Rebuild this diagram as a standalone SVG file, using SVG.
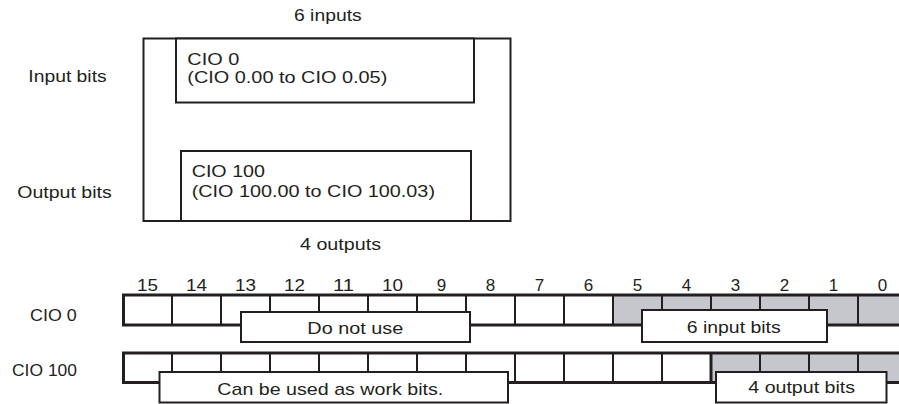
<svg xmlns="http://www.w3.org/2000/svg" width="899" height="404" viewBox="0 0 899 404">
<style>
text{font-family:"Liberation Sans",Arial,sans-serif;font-size:17px;fill:#231f20}
.box{fill:#fff;stroke:#231f20;stroke-width:2}
.row{fill:none;stroke:#231f20;stroke-width:3}
.div{stroke:#231f20;stroke-width:2}
.shade{fill:#c5c7cd}
.lbl{fill:#fff;stroke:#231f20;stroke-width:2}
.num{text-anchor:middle}
</style>
<rect width="899" height="404" fill="#fff"/>
<g id="unit">
<rect class="box" x="143.5" y="38.5" width="367" height="182.5"/>
<text x="294" y="20.7" textLength="67.7" lengthAdjust="spacingAndGlyphs">6 inputs</text>
<text x="300" y="250" textLength="81" lengthAdjust="spacingAndGlyphs">4 outputs</text>
</g>
<g id="cio0-box">
<rect class="box" x="176" y="38.5" width="298" height="64"/>
<text x="187.3" y="65" textLength="52" lengthAdjust="spacingAndGlyphs">CIO 0</text>
<text x="187.3" y="82.7" textLength="200" lengthAdjust="spacingAndGlyphs">(CIO 0.00 to CIO 0.05)</text>
</g>
<g id="cio100-box">
<rect class="box" x="181" y="151" width="290" height="70"/>
<text x="191.7" y="176.7" textLength="73.3" lengthAdjust="spacingAndGlyphs">CIO 100</text>
<text x="191.7" y="196.7" textLength="243.3" lengthAdjust="spacingAndGlyphs">(CIO 100.00 to CIO 100.03)</text>
</g>
<g id="side-labels">
<text x="28.3" y="81.7" textLength="78.4" lengthAdjust="spacingAndGlyphs">Input bits</text>
<text x="17.3" y="198.3" textLength="94.4" lengthAdjust="spacingAndGlyphs">Output bits</text>
<text x="30" y="321" textLength="46.7" lengthAdjust="spacingAndGlyphs">CIO 0</text>
<text x="12" y="376" textLength="65" lengthAdjust="spacingAndGlyphs">CIO 100</text>
</g>
<g id="bit-numbers">
<text class="num" x="147.5" y="290.7" textLength="21" lengthAdjust="spacingAndGlyphs">15</text>
<text class="num" x="196.5" y="290.7" textLength="21" lengthAdjust="spacingAndGlyphs">14</text>
<text class="num" x="245.5" y="290.7" textLength="21" lengthAdjust="spacingAndGlyphs">13</text>
<text class="num" x="294.5" y="290.7" textLength="21" lengthAdjust="spacingAndGlyphs">12</text>
<text class="num" x="343.5" y="290.7" textLength="21" lengthAdjust="spacingAndGlyphs">11</text>
<text class="num" x="392.5" y="290.7" textLength="21" lengthAdjust="spacingAndGlyphs">10</text>
<text class="num" x="441.5" y="290.7">9</text>
<text class="num" x="490.5" y="290.7">8</text>
<text class="num" x="539.5" y="290.7">7</text>
<text class="num" x="588.5" y="290.7">6</text>
<text class="num" x="637.5" y="290.7">5</text>
<text class="num" x="686.5" y="290.7">4</text>
<text class="num" x="735.5" y="290.7">3</text>
<text class="num" x="784.5" y="290.7">2</text>
<text class="num" x="833.5" y="290.7">1</text>
<text class="num" x="882.5" y="290.7">0</text>
</g>
<g id="cio0-row">
<rect class="shade" x="613" y="295" width="295" height="30"/>
<g class="div">
<line x1="172" y1="295" x2="172" y2="325"/><line x1="221" y1="295" x2="221" y2="325"/><line x1="270" y1="295" x2="270" y2="325"/><line x1="319" y1="295" x2="319" y2="325"/><line x1="368" y1="295" x2="368" y2="325"/><line x1="417" y1="295" x2="417" y2="325"/><line x1="466" y1="295" x2="466" y2="325"/><line x1="515" y1="295" x2="515" y2="325"/><line x1="564" y1="295" x2="564" y2="325"/><line x1="613" y1="295" x2="613" y2="325"/><line x1="662" y1="295" x2="662" y2="325"/><line x1="711" y1="295" x2="711" y2="325"/><line x1="760" y1="295" x2="760" y2="325"/><line x1="809" y1="295" x2="809" y2="325"/><line x1="858" y1="295" x2="858" y2="325"/>
</g>
<rect class="row" x="123.5" y="295" width="790" height="30"/>
</g>
<g id="cio100-row">
<rect class="shade" x="711" y="353" width="197" height="29.5"/>
<g class="div">
<line x1="172" y1="353" x2="172" y2="382.5"/><line x1="221" y1="353" x2="221" y2="382.5"/><line x1="270" y1="353" x2="270" y2="382.5"/><line x1="319" y1="353" x2="319" y2="382.5"/><line x1="368" y1="353" x2="368" y2="382.5"/><line x1="417" y1="353" x2="417" y2="382.5"/><line x1="466" y1="353" x2="466" y2="382.5"/><line x1="515" y1="353" x2="515" y2="382.5"/><line x1="564" y1="353" x2="564" y2="382.5"/><line x1="613" y1="353" x2="613" y2="382.5"/><line x1="662" y1="353" x2="662" y2="382.5"/><line x1="711" y1="353" x2="711" y2="382.5" stroke-width="3"/><line x1="760" y1="353" x2="760" y2="382.5"/><line x1="809" y1="353" x2="809" y2="382.5"/><line x1="858" y1="353" x2="858" y2="382.5"/>
</g>
<rect class="row" x="123.5" y="353" width="790" height="29.5"/>
</g>
<g id="do-not-use">
<rect class="lbl" x="241" y="312" width="229" height="30"/>
<text x="307.3" y="334" textLength="96" lengthAdjust="spacingAndGlyphs">Do not use</text>
</g>
<g id="input-bits">
<rect class="lbl" x="642" y="310" width="185" height="32"/>
<text x="686.7" y="333.3" textLength="94" lengthAdjust="spacingAndGlyphs">6 input bits</text>
</g>
<g id="work-bits">
<rect class="lbl" x="159.5" y="372" width="348.5" height="30.5"/>
<text x="217.3" y="395" textLength="226" lengthAdjust="spacingAndGlyphs">Can be used as work bits.</text>
</g>
<g id="output-bits">
<rect class="lbl" x="716" y="372" width="170.5" height="30.5"/>
<text x="748.3" y="393.3" textLength="106.7" lengthAdjust="spacingAndGlyphs">4 output bits</text>
</g>
<g id="connectors"/>
</svg>
